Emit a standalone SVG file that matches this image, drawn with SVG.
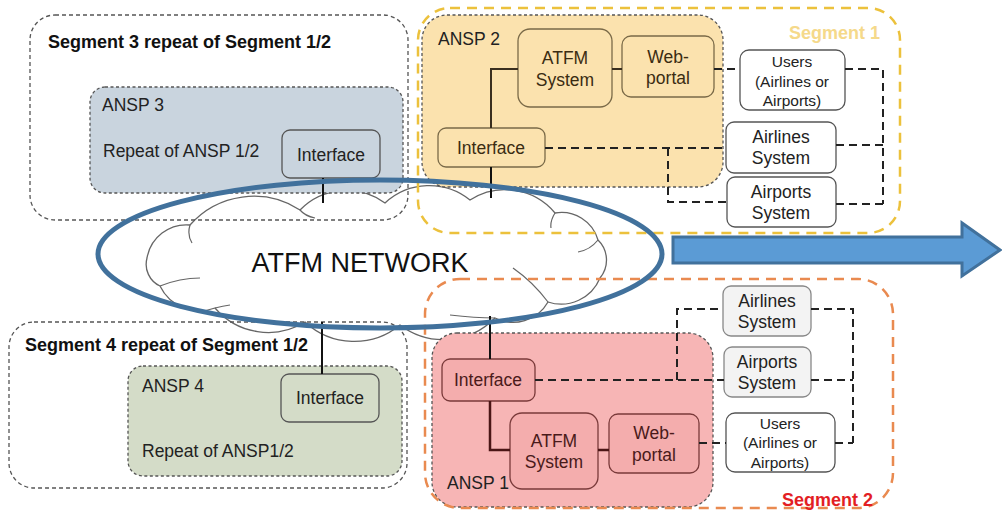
<svg xmlns="http://www.w3.org/2000/svg" width="1002" height="514" viewBox="0 0 1002 514">
<style>
text{font-family:"Liberation Sans",Arial,sans-serif;}
.seg{fill:none;stroke:#555;stroke-width:1.3;stroke-dasharray:4 3;}
.ansp{stroke:#555;stroke-width:1.3;stroke-dasharray:3 2.5;}
.t{font-size:17.5px;fill:#222;}
.tc{font-size:17.5px;fill:#222;text-anchor:middle;}
.tu{font-size:15.5px;fill:#222;text-anchor:middle;}
.title{font-size:18px;font-weight:bold;fill:#111;}
.y{fill:#fbe2ae;stroke:#7a6a48;stroke-width:1.3;}
.yt{font-size:17.5px;fill:#3a2c12;text-anchor:middle;}
.p{fill:#f4adad;stroke:#7a3a3a;stroke-width:1.3;}
.pt{font-size:17.5px;fill:#4a1a1a;text-anchor:middle;}
.w{fill:#fff;stroke:#555;stroke-width:1.3;}
.g{fill:#f3f3f3;stroke:#888;stroke-width:1.3;}
.dash{fill:none;stroke:#222;stroke-width:2;stroke-dasharray:8 5;}
.sy{fill:none;stroke:#3a2f1f;stroke-width:2;}
.sp{fill:none;stroke:#4a1515;stroke-width:2.5;}
.net{fill:none;stroke:#111;stroke-width:2;}
</style>

<g id="cloud">
<path d="M147,258 A40,40 0 0 1 190,225 A85,85 0 0 1 300,210 A65,65 0 0 1 385,203 A65,65 0 0 1 470,200 A65,65 0 0 1 555,213 A38,38 0 0 1 598,240 A28,28 0 0 1 600,278 A42,42 0 0 1 548,302 A40,40 0 0 1 495,318 A72,72 0 0 1 400,325 A72,72 0 0 1 305,322 A70,70 0 0 1 215,308 A44,44 0 0 1 160,286 A24,24 0 0 1 147,258 Z" fill="#fff" stroke="#666" stroke-width="1.3"/>
<path d="M190,225 q-3,10 2,18 M300,210 q5,6 15,8 M555,213 q-5,8 -4,15 M598,240 q-8,10 -20,12 M548,302 q-15,-20 -35,-34 M495,318 q-20,0 -45,-3 M215,308 q8,-2 15,-3 M160,286 q20,-8 40,-8" fill="none" stroke="#666" stroke-width="1.2"/>
<text x="360" y="272" style="font-size:27px;fill:#111;text-anchor:middle">ATFM NETWORK</text>
</g>

<g id="segment3">
<rect class="seg" x="30" y="15" width="378" height="205" rx="25"/>
<text class="title" x="48" y="47.5">Segment 3 repeat of Segment 1/2</text>
</g>
<g id="ansp3">
<rect class="ansp" x="90" y="87" width="313" height="106" rx="15" fill="#c9d4de"/>
<text class="t" x="102" y="111">ANSP 3</text>
<text class="t" x="103" y="157">Repeat of ANSP 1/2</text>
</g>
<g id="ansp3-interface">
<rect x="282" y="130" width="98" height="48" rx="8" fill="#c9d4de" stroke="#555" stroke-width="1.3"/>
<text class="tc" x="331" y="161">Interface</text>
</g>

<g id="segment4">
<rect class="seg" x="9" y="322" width="398" height="166" rx="25"/>
<text class="title" x="25" y="351">Segment 4 repeat of Segment 1/2</text>
</g>
<g id="ansp4">
<rect class="ansp" x="128" y="366" width="274" height="110" rx="15" fill="#d4dcc8"/>
<text class="t" x="142" y="392">ANSP 4</text>
<text class="t" x="142" y="457">Repeat of ANSP1/2</text>
</g>
<g id="ansp4-interface">
<rect x="281" y="374" width="98" height="48" rx="8" fill="#d4dcc8" stroke="#555" stroke-width="1.3"/>
<text class="tc" x="330" y="404">Interface</text>
</g>

<g id="ansp2">
<rect class="ansp" x="422" y="15" width="301" height="172" rx="25" fill="#fbe2ae"/>
<text class="t" x="438" y="45">ANSP 2</text>
</g>
<g id="ansp2-atfm">
<rect class="y" x="518" y="29" width="94" height="78" rx="12"/>
<text class="yt" x="565" y="64">ATFM</text>
<text class="yt" x="565" y="86">System</text>
</g>
<g id="ansp2-web">
<rect class="y" x="622" y="36" width="92" height="61" rx="9"/>
<text class="yt" x="668" y="63">Web-</text>
<text class="yt" x="668" y="84">portal</text>
</g>
<g id="ansp2-interface">
<rect class="y" x="438" y="128" width="107" height="39" rx="8"/>
<text class="yt" x="491" y="154">Interface</text>
</g>
<g id="seg1-users">
<rect class="w" x="740" y="50" width="105" height="60" rx="9"/>
<text class="tu" x="792" y="67">Users</text>
<text class="tu" x="792" y="87">(Airlines or</text>
<text class="tu" x="792" y="106">Airports)</text>
</g>
<g id="seg1-airlines">
<rect class="w" x="726" y="122" width="110" height="51" rx="8"/>
<text class="tc" x="781" y="143">Airlines</text>
<text class="tc" x="781" y="164">System</text>
</g>
<g id="seg1-airports">
<rect class="w" x="727" y="177" width="109" height="50" rx="8"/>
<text class="tc" x="781" y="198">Airports</text>
<text class="tc" x="781" y="219">System</text>
</g>

<g id="ansp1">
<rect class="ansp" x="432" y="333" width="281" height="174" rx="25" fill="#f7b5b5"/>
<text class="t" x="447" y="489">ANSP 1</text>
</g>
<g id="ansp1-interface">
<rect class="p" x="442" y="359" width="93" height="42" rx="8"/>
<text class="pt" x="488" y="386">Interface</text>
</g>
<g id="ansp1-atfm">
<rect class="p" x="510" y="413" width="88" height="76" rx="12"/>
<text class="pt" x="554" y="447">ATFM</text>
<text class="pt" x="554" y="468">System</text>
</g>
<g id="ansp1-web">
<rect class="p" x="609" y="414" width="90" height="59" rx="9"/>
<text class="pt" x="654" y="439">Web-</text>
<text class="pt" x="654" y="461">portal</text>
</g>
<g id="seg2-airlines">
<rect class="g" x="723" y="286" width="88" height="50" rx="8"/>
<text class="tc" x="767" y="307">Airlines</text>
<text class="tc" x="767" y="328">System</text>
</g>
<g id="seg2-airports">
<rect class="g" x="724" y="347" width="87" height="50" rx="8"/>
<text class="tc" x="767" y="368">Airports</text>
<text class="tc" x="767" y="389">System</text>
</g>
<g id="seg2-users">
<rect class="w" x="726" y="413" width="109" height="59" rx="9"/>
<text class="tu" x="780" y="429">Users</text>
<text class="tu" x="780" y="448">(Airlines or</text>
<text class="tu" x="780" y="468">Airports)</text>
</g>

<g id="connectors">
<path class="net" d="M323,178 V203 M322,322 V374 M491,167 V198 M490,316 V359"/>
<path class="sy" d="M491,128 V69 H518 M612,69 H622"/>
<path class="sp" d="M490,401 V450 H510 M598,450 H609"/>
<path class="dash" d="M714,69 H740 M845,69 H883 V204 M836,145 H883 M836,204 H883 M545,148 H726 M668,148 V202 H727"/>
<path class="dash" d="M535,380 H724 M677,380 V309 H723 M811,309 H853 V443 M811,380 H853 M835,443 H853 M699,443 H726"/>
</g>

<g id="segment1">
<rect x="418" y="8" width="482" height="225" rx="32" fill="none" stroke="#ecc13c" stroke-width="2.5" stroke-dasharray="10 7"/>
<text x="880" y="39" style="font-size:18px;font-weight:bold;fill:#f5d98a;text-anchor:end">Segment 1</text>
</g>
<g id="segment2">
<rect x="425" y="279" width="468" height="229" rx="35" fill="none" stroke="#e98a50" stroke-width="2.5" stroke-dasharray="10 7"/>
<text x="873" y="506" style="font-size:18px;font-weight:bold;fill:#e31e24;text-anchor:end">Segment 2</text>
</g>

<g id="network-ring">
<ellipse cx="380" cy="254" rx="282" ry="74" fill="none" stroke="#41719c" stroke-width="5"/>
</g>
<g id="arrow">
<path d="M673,237 H962 V223 L1000,250 L962,276 V263 H673 Z" fill="#5b9bd5" stroke="#41719c" stroke-width="3" stroke-linejoin="miter"/>
</g>
</svg>
